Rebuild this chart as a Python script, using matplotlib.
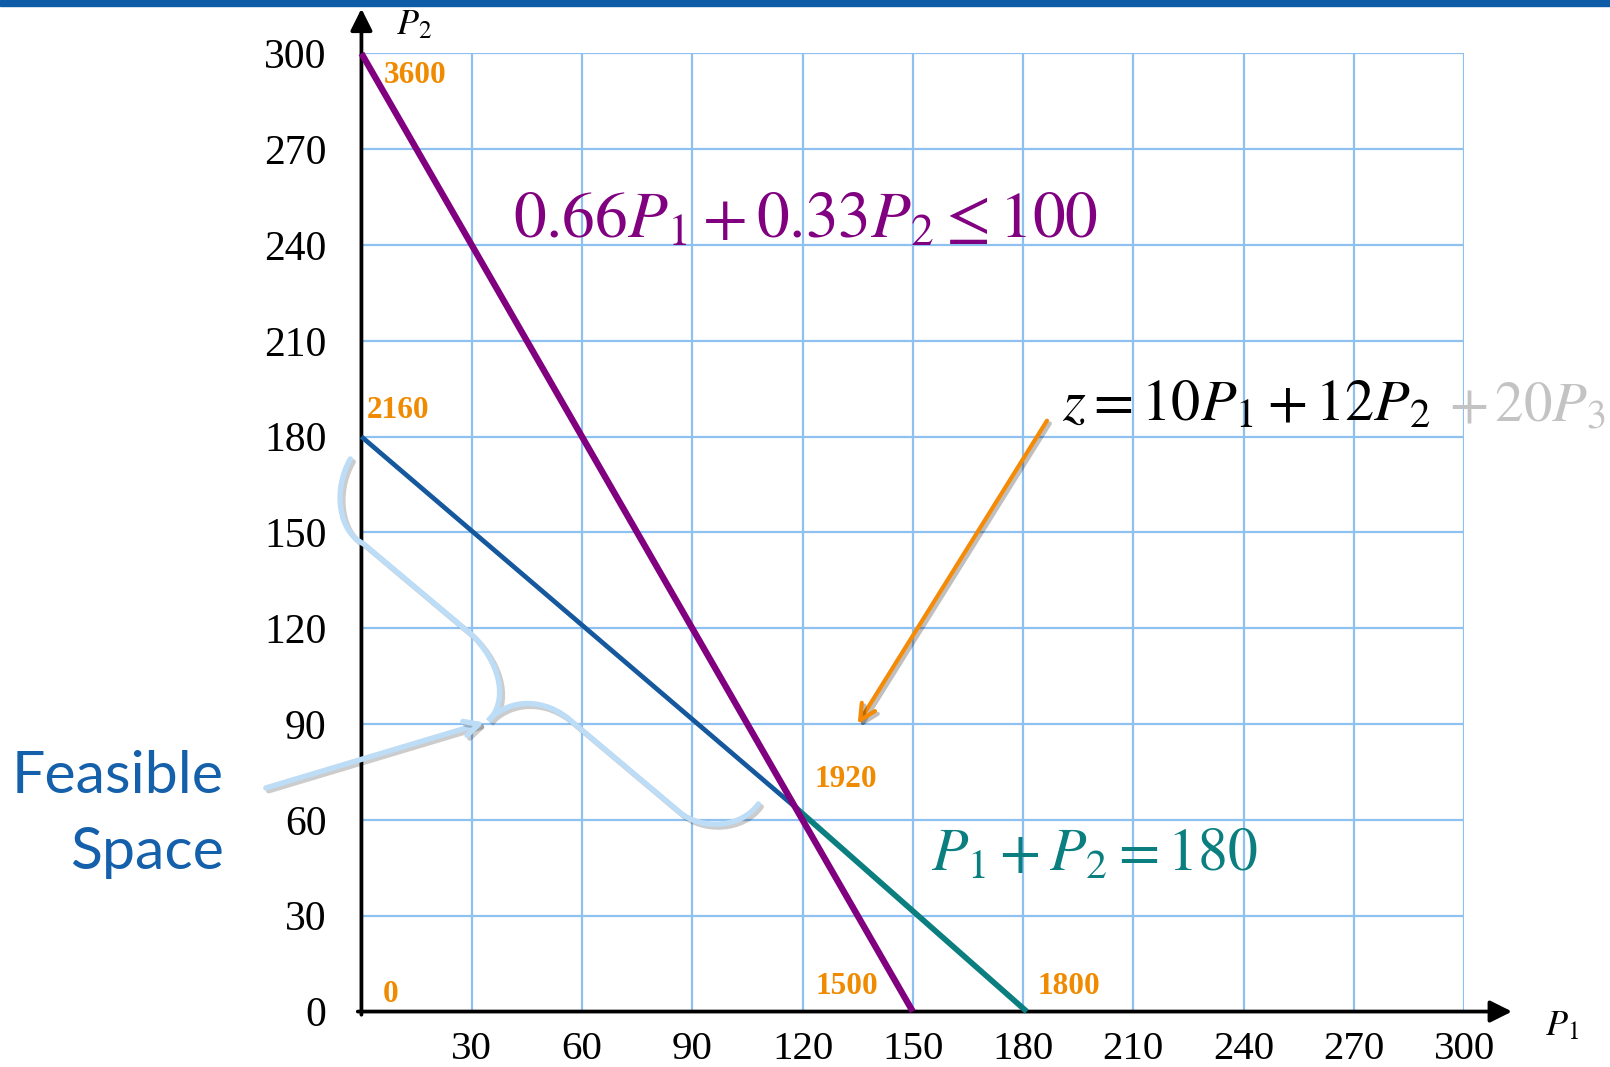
import matplotlib
matplotlib.use("Agg")
import matplotlib.pyplot as plt
from matplotlib.path import Path
from matplotlib.patches import PathPatch, Rectangle
import matplotlib.patheffects as pe

plt.rcParams['mathtext.fontset'] = 'stix'
plt.rcParams['font.family'] = ['Liberation Serif', 'DejaVu Serif']

# ---- data ----
ticks = [0, 30, 60, 90, 120, 150, 180, 210, 240, 270, 300]
x_tick_labels = ['', '30', '60', '90', '120', '150', '180', '210', '240', '270', '300']
y_tick_labels = ['0', '30', '60', '90', '120', '150', '180', '210', '240', '270', '300']

c1_x = [0, 150]          # 0.66P1 + 0.33P2 <= 100
c1_y = [300, 0]
c2a_x = [0, 118]         # P1 + P2 = 180 (upper part)
c2a_y = [180, 64]
c2b_x = [118, 181]       # P1 + P2 = 180 (lower part)
c2b_y = [64, 0]

vert_x = [0, 0, 118, 150, 181, 0]
vert_y = [300, 180, 64, 0, 0, 0]
vert_z = ['3600', '2160', '1920', '1500', '1800', '0']

# brace outline (data coordinates)
brace_pts = [(-3, 173), (-8, 163), (-6, 150), (0.5, 146.5),
             (30, 118),
             (38, 109), (40, 97), (34.5, 91),
             (39, 97), (48, 99), (56, 92),
             (86.5, 62.5),
             (92, 57), (103, 57), (108, 65)]
brace_codes = [Path.MOVETO, Path.CURVE4, Path.CURVE4, Path.CURVE4,
               Path.LINETO,
               Path.CURVE4, Path.CURVE4, Path.CURVE4,
               Path.CURVE4, Path.CURVE4, Path.CURVE4,
               Path.LINETO,
               Path.CURVE4, Path.CURVE4, Path.CURVE4]

# ---- figure ----
W, H = 1568.0, 1039.0   # reference measured in these units
fig = plt.figure(figsize=(16.1, 10.67), dpi=100)
fig.patches.append(Rectangle((0, 1 - 6 / H), 1, 6 / H, transform=fig.transFigure,
                             color='#0e5ca8', zorder=10))
ax = fig.add_axes([352 / W, 1 - 985 / H, (1426 - 352) / W, (985 - 52) / H])
ax.set_xlim(0, 300)
ax.set_ylim(0, 300)

grid_c = '#8ec0f0'
ax.set_xticks(ticks)
ax.set_yticks(ticks)
ax.set_xticklabels(x_tick_labels, fontsize=29.5)
ax.set_yticklabels(y_tick_labels, fontsize=30)
ax.tick_params(length=0)
ax.tick_params(axis='x', pad=14)
ax.tick_params(axis='y', pad=25)
ax.grid(True, color=grid_c, lw=1.6)
for s in ax.spines.values():
    s.set_visible(False)

# axes arrows
ax.annotate('', xy=(313, 0), xytext=(-1, 0),
            arrowprops=dict(arrowstyle='-|>', lw=2.7, color='black', mutation_scale=33,
                            shrinkA=0, shrinkB=0), annotation_clip=False)
ax.annotate('', xy=(0, 314), xytext=(0, -1),
            arrowprops=dict(arrowstyle='-|>', lw=2.7, color='black', mutation_scale=33,
                            shrinkA=0, shrinkB=0), annotation_clip=False)
ax.text(322, -7.5, r'$P_1$', fontsize=26, ha='left', va='baseline', clip_on=False)
ax.text(9.5, 306, r'$P_2$', fontsize=26, ha='left', va='baseline', clip_on=False)

# constraint lines
ax.plot(c1_x, c1_y, color='#800080', lw=4.6, solid_capstyle='butt', clip_on=False, zorder=4)
ax.plot(c2a_x, c2a_y, color='#15589e', lw=3.4, solid_capstyle='butt', clip_on=False, zorder=3)
ax.plot(c2b_x, c2b_y, color='#0b7f7f', lw=4.1, solid_capstyle='butt', clip_on=False, zorder=3)

# vertex objective values
offsets = [(16, -16), (4, 19), (14, 20), (-70, 18), (8, 18), (15, 12)]
for vx, vy, vz, off in zip(vert_x, vert_y, vert_z, offsets):
    ax.annotate(vz, xy=(vx, vy), xytext=off, textcoords='offset points',
                ha='left', va='center', fontsize=22.5, fontweight='bold',
                color='#f08a00', zorder=6, annotation_clip=False)

# equations
ax.text(41.3, 242.5, r'$0.66P_1+0.33P_2\leq100$', fontsize=47, color='#800080',
        ha='left', va='baseline', zorder=6)
ax.text(190.5, 185, r'$z=10P_1+12P_2$', fontsize=42, color='black',
        ha='left', va='baseline', zorder=6)
ax.text(296, 185, r'$+\,20P_3$', fontsize=41, color='#c3c3c3',
        ha='left', va='baseline', zorder=6, clip_on=False)
ax.text(155, 44, r'$P_1+P_2=180$', fontsize=43, color='#0b7f7f',
        ha='left', va='baseline', zorder=6)

# orange arrow to objective
ax.annotate('', xy=(135, 90), xytext=(186.5, 185),
            arrowprops=dict(arrowstyle='->', lw=3.0, color='#f58a07', mutation_scale=28,
                            shrinkA=0, shrinkB=0,
                            path_effects=[pe.SimpleLineShadow(offset=(2, -2), alpha=0.25),
                                          pe.Normal()]),
            zorder=5)

# feasible space brace and arrow
brace_c = '#bddcf6'
brace = PathPatch(Path(brace_pts, brace_codes), fill=False, ec=brace_c, lw=3.9,
                  capstyle='round', clip_on=False, zorder=5,
                  path_effects=[pe.SimpleLineShadow(offset=(2, -2), alpha=0.2),
                                pe.Normal()])
ax.add_patch(brace)
ax.annotate('', xy=(33.5, 90.5), xytext=(-26, 70),
            arrowprops=dict(arrowstyle='->', lw=3.9, color=brace_c, mutation_scale=26,
                            shrinkA=0, shrinkB=0,
                            path_effects=[pe.SimpleLineShadow(offset=(2, -2), alpha=0.2),
                                          pe.Normal()]),
            annotation_clip=False, zorder=5)

fig.text(218 / W, 1 - 793 / H, 'Feasible\nSpace', fontsize=42.5, color='#1560aa',
         family=['Lato', 'DejaVu Sans'], ha='right', va='center', linespacing=1.55,
         multialignment='right')

fig.savefig('out.png', dpi=100)
